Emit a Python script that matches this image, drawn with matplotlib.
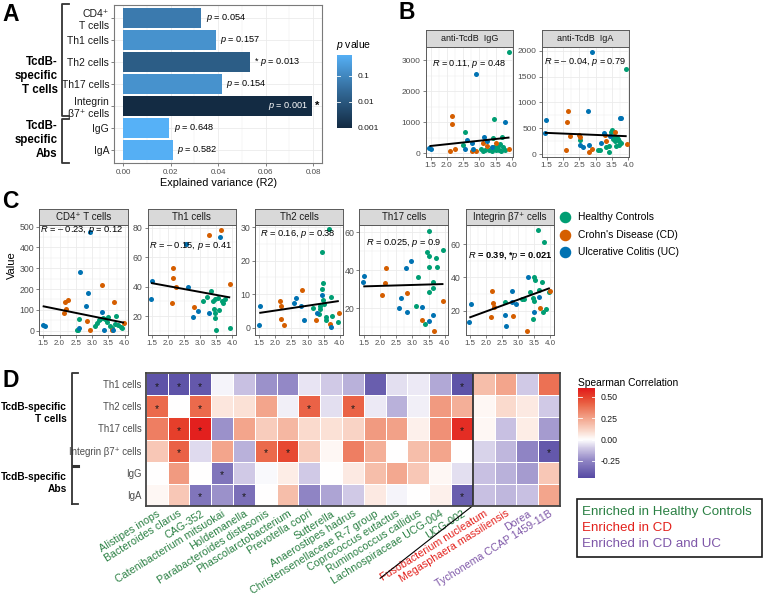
import numpy as np
import matplotlib
matplotlib.use('Agg')
import matplotlib.pyplot as plt
from matplotlib.colors import LinearSegmentedColormap, Normalize
from matplotlib.lines import Line2D
from matplotlib.patches import Rectangle

plt.rcParams['font.family'] = ['Liberation Sans', 'DejaVu Sans']
plt.rcParams['mathtext.fontset'] = 'custom'
plt.rcParams['mathtext.it'] = 'Liberation Sans:italic'
plt.rcParams['mathtext.rm'] = 'Liberation Sans'
plt.rcParams['mathtext.bf'] = 'Liberation Sans:bold'

# ------------------------------------------------------------------ data
# Panel A
a_labels = ['CD4⁺\nT cells', 'Th1 cells', 'Th2 cells', 'Th17 cells', 'Integrin\nβ7⁺ cells', 'IgG', 'IgA']
a_r2 = [0.033, 0.039, 0.0535, 0.0415, 0.0795, 0.0195, 0.021]
a_p = [0.054, 0.157, 0.013, 0.154, 0.001, 0.648, 0.582]
a_sig = [False, False, True, False, True, False, False]

group_names = ['Healthy Controls', "Crohn's Disease (CD)", 'Ulcerative Colitis (UC)']
group_colors = {'H': '#009E73', 'C': '#D55E00', 'U': '#0072B2'}

# Panel B
b_igg_x = [1.46, 1.50, 2.15, 2.17, 2.10, 2.24, 2.49, 2.57, 2.61, 2.57, 2.76, 2.78, 2.82, 2.90, 2.90, 3.05, 3.12, 3.18,
           3.10, 3.15, 3.25, 3.24, 3.30, 3.38, 3.45, 3.50, 3.52, 3.58, 3.62, 3.68, 3.72, 3.80, 3.45, 3.43, 3.53, 3.78,
           3.70, 3.92, 3.93, 3.40, 3.65]
b_igg_y = [171, 129, 1200, 943, 86, 150, 268, 686, 429, 139, 321, 86, 129, 2550, 86, 150, 60, 100,
           321, 514, 397, 236, 120, 60, 200, 150, 100, 230, 120, 60, 200, 110, 1093, 493, 321, 997,
           536, 3258, 129, 200, 300]
b_igg_g = list('UUCCCCHHUUUCUUCHHHCUUCHHHHHHHHHHHHCUHHCUH')
b_igg_fit = (112.0, 67.6)

b_iga_x = [1.48, 1.44, 2.15, 2.12, 2.10, 2.22, 2.49, 2.51, 2.53, 2.53, 2.61, 2.77, 2.80, 2.80, 2.90, 2.89, 3.07, 3.12,
           3.16, 3.26, 3.28, 3.33, 3.33, 3.40, 3.42, 3.43, 3.48, 3.50, 3.52, 3.58, 3.62, 3.66, 3.70, 3.72, 3.78, 3.60,
           3.76, 3.79, 3.92, 3.95, 3.55, 3.68]
b_iga_y = [658, 400, 839, 619, 77, 348, 370, 320, 271, 168, 142, 832, 181, 39, 103, 1981, 77, 77,
           206, 413, 370, 258, 142, 45, 160, 348, 432, 470, 300, 250, 160, 310, 250, 170, 210, 426,
           697, 697, 1639, 193, 350, 300]
b_iga_g = list('UUCCCCCCHUUUUCCUHHUUCCHHHUHHHHHHHHHCUUHCHH')
b_iga_fit = (-26.0, 447.7)

# Panel C
c_cd4_x = [1.48, 1.54, 2.17, 2.20, 2.27, 2.15, 2.60, 2.53, 2.60, 2.55, 2.64, 2.82, 2.86, 2.84, 2.93, 2.93, 3.30, 3.30,
           3.10, 3.15, 3.20, 3.25, 3.32, 3.38, 3.36, 3.68, 3.60, 3.65, 3.74, 3.70, 3.80, 3.88, 3.93, 3.98, 3.45, 3.55,
           3.62, 3.50]
c_cd4_y = [27, 22, 137, 106, 148, 85, 58, 3, 11, 2, 282, 117, 180, 47, 3, 476, 219, 91,
           22, 38, 50, 58, 62, 55, 3, 136, 3, 3, 69, 32, 27, 19, 14, 38, 40, 20, 15, 65]
c_cd4_g = list('UUCCCCHHUHUUUCCUCUHHHHHHUCCUHHHHHCHHHH')
c_cd4_fit = (-31.85, 164.8)

c_th1_x = [1.47, 1.51, 2.14, 2.14, 2.24, 2.12, 2.55, 2.62, 2.81, 2.78, 2.92, 3.27, 3.33, 3.10, 3.20, 3.40, 3.47, 3.55,
           3.67, 3.72, 3.76, 3.47, 3.45, 3.50, 3.60, 3.64, 3.27, 3.93, 3.91, 3.42, 3.58]
c_th1_y = [31.3, 44, 52.4, 45.6, 39.5, 29, 68.7, 40, 25.9, 19, 23.4, 75, 37, 30.4, 33, 30.4, 31.5, 32,
           30.4, 28.5, 31.6, 21.8, 18.4, 10.5, 73.9, 78.4, 22.3, 41.7, 12, 25, 24]
c_th1_g = list('UUCCCCUUCUUCHHHHHHHHHHHHUCUCHHH')
c_th1_fit = (-4.0, 48.3)

c_th2_x = [1.50, 1.52, 2.14, 2.17, 2.19, 2.27, 2.57, 2.63, 2.81, 2.84, 2.90, 3.17, 3.27, 3.30, 3.36, 3.40, 3.46, 3.46,
           3.48, 3.44, 3.67, 3.58, 3.56, 3.48, 3.50, 3.72, 3.74, 3.71, 3.76, 3.94, 3.97, 3.38]
c_th2_y = [0.8, 6.4, 8.0, 6.4, 2.7, 0.8, 7.3, 8.9, 6.5, 11.3, 2.3, 5.8, 2.3, 4.5, 4.0, 5.5, 9.8, 11.6,
           13.5, 22.5, 29.5, 3.2, 2.2, 8.2, 7.0, 9.2, 0.3, 1.0, 3.6, 1.6, 4.3, 6.5]
c_th2_g = list('UUCCCCUUUCUHCUHHUHHHHHHHHHUCHHCH')
c_th2_fit = (1.44, 2.24)

c_th17_x = [1.52, 1.49, 2.20, 2.15, 2.08, 2.64, 2.59, 2.83, 2.83, 2.81, 2.95, 3.19, 3.12, 3.29, 3.45, 3.50, 3.50, 3.50,
            3.63, 3.63, 3.74, 3.76, 3.94, 3.96, 3.29, 3.50, 3.38, 3.65, 3.67, 3.50]
c_th17_y = [37, 34, 41, 33.4, 27, 25.2, 20, 18.3, 27.9, 41, 45, 36.2, 21.2, 20.5, 49.7, 47.4, 41.8, 28.7,
            34, 30.5, 46.2, 41.8, 50.6, 24, 13.9, 13.4, 11.6, 16.5, 8.3, 60.7]
c_th17_g = list('UUCCCUUUCUUHHUHHHHHHHHHCCUHUCH')
c_th17_fit = (0.5, 30.75)

c_itg_x = [1.48, 1.52, 2.17, 2.20, 2.26, 2.15, 2.58, 2.63, 2.60, 2.82, 2.79, 2.84, 2.94, 3.13, 3.17, 3.30, 3.28, 3.37,
           3.48, 3.52, 3.46, 3.48, 3.46, 3.48, 3.61, 3.79, 3.74, 3.65, 3.65, 3.67, 3.76, 3.86, 3.96, 3.98]
c_itg_y = [13, 23.8, 32, 24.8, 22, 16, 17.4, 10.8, 25.2, 32, 25.4, 16.8, 23.8, 27.2, 27.2, 40.4, 8, 31,
           40, 38.4, 27.4, 26, 14.8, 19, 68.4, 61.4, 37.2, 32.4, 28, 21.4, 19, 20.8, 31.2, 32]
c_itg_g = list('UUCCCCUUHUUCUHHUCHHHHHHUHHHHUCHHHC')
c_itg_fit = (7.07, 5.4)

# Panel D
d_rows = ['Th1 cells', 'Th2 cells', 'Th17 cells', 'Integrin β7⁺ cells', 'IgG', 'IgA']
d_cols = ['Alistipes inops', 'Bacteroides clarus', 'CAG-352', 'Catenibacterium mitsuokai', 'Holdemanella',
          'Parabacteroides distasonis', 'Phascolarctobacterium', 'Prevotella copri', 'Sutterella',
          'Anaerostipes hadrus', 'Christensenellaceae R-7 group', 'Coprococcus eutactus', 'Ruminococcus callidus',
          'Lachnospiraceae UCG-004', 'UCG-002', 'Fusobacterium nucleatum', 'Megasphaera massiliensis', 'Dorea',
          'Tychonema CCAP 1459-11B']
d_col_group = ['HC'] * 15 + ['CD'] * 2 + ['CDUC'] * 2
d_corr = [
    [-0.42, -0.42, -0.40, -0.02, -0.12, -0.22, -0.24, -0.05, -0.10, -0.15, -0.38, -0.06, -0.04, -0.17, -0.42, 0.18, 0.25, -0.10, 0.38],
    [0.40, 0.00, 0.40, 0.07, 0.08, 0.25, -0.03, 0.42, -0.06, 0.42, -0.04, -0.15, -0.03, 0.28, 0.22, 0.02, 0.10, 0.06, -0.10],
    [0.35, 0.50, 0.58, -0.22, 0.25, 0.14, 0.20, 0.10, 0.08, 0.12, 0.28, 0.26, 0.04, 0.30, 0.55, 0.02, -0.12, 0.05, -0.20],
    [0.15, 0.42, -0.07, 0.25, -0.15, 0.40, 0.48, 0.14, 0.02, 0.35, 0.22, 0.00, 0.18, 0.25, 0.00, -0.08, -0.14, -0.25, -0.40],
    [0.00, 0.28, 0.00, -0.30, -0.10, -0.01, 0.05, -0.10, 0.00, 0.06, 0.18, 0.24, 0.15, 0.02, -0.06, -0.12, -0.15, -0.20, 0.15],
    [0.02, 0.15, -0.30, -0.22, -0.32, 0.00, 0.18, -0.25, -0.18, -0.10, 0.06, -0.02, 0.00, 0.04, -0.38, -0.12, -0.14, -0.12, 0.25],
]
d_stars = [(0, 0), (0, 1), (0, 2), (0, 14), (1, 0), (1, 2), (1, 7), (1, 9), (2, 1), (2, 2), (2, 14),
           (3, 1), (3, 5), (3, 6), (3, 18), (4, 3), (5, 2), (5, 4), (5, 14)]
d_legend = [('Enriched in Healthy Controls', 'HC'), ('Enriched in CD', 'CD'), ('Enriched in CD and UC', 'CDUC')]
d_group_colors = {'HC': '#2A8043', 'CD': '#E3211C', 'CDUC': '#7E57A8'}
d_lim = (-0.446, 0.598)

# ------------------------------------------------------------------ figure helpers
W, H = 763, 598
fig = plt.figure(figsize=(W / 100, H / 100), dpi=100)


def add_ax(x0, y0, x1, y1):
    return fig.add_axes([x0 / W, 1 - y1 / H, (x1 - x0) / W, (y1 - y0) / H])


def ftext(x, y, s, **kw):
    fig.text(x / W, 1 - y / H, s, **kw)


def fline(xs, ys, **kw):
    fig.add_artist(Line2D([x / W for x in xs], [1 - y / H for y in ys], **kw))


GRID = '#EBEBEB'
BORDER = '#5A5A5A'
TICKC = '#4D4D4D'

# ------------------------------------------------------------------ Panel A
gg_blue = LinearSegmentedColormap.from_list('ggblue', ['#132B43', '#336A98', '#56B1F7'])
pnorm = Normalize(np.log10(0.001), np.log10(0.648))

axA = add_ax(114, 5, 322, 163)
ypos = np.arange(len(a_labels))
cols = [gg_blue(pnorm(np.log10(p))) for p in a_p]
axA.barh(ypos, a_r2, height=0.9, color=cols, zorder=3)
axA.set_xlim(-0.0038, 0.0837)
axA.set_ylim(6.6, -0.6)
axA.set_xticks([0, 0.02, 0.04, 0.06, 0.08])
axA.set_xticklabels(['0.00', '0.02', '0.04', '0.06', '0.08'])
axA.set_xticks([0.01, 0.03, 0.05, 0.07], minor=True)
axA.set_yticks(ypos)
axA.set_yticklabels(a_labels)
axA.grid(True, which='major', color=GRID, lw=0.6, zorder=0)
axA.grid(True, which='minor', axis='x', color=GRID, lw=0.3, zorder=0)
axA.set_axisbelow(True)
axA.tick_params(axis='x', labelsize=5.8, colors=TICKC, length=2.5, width=0.5, pad=1.5)
axA.tick_params(axis='x', which='minor', length=0)
axA.tick_params(axis='y', labelsize=7.5, labelcolor='#1A1A1A', color=TICKC, length=2.5, width=0.5, pad=1)
for s in axA.spines.values():
    s.set_color('#7A7A7A')
    s.set_linewidth(0.8)
axA.set_xlabel('Explained variance (R2)', fontsize=7.8, labelpad=1.5)
for i, (r, p, sg) in enumerate(zip(a_r2, a_p, a_sig)):
    ptxt = '$p$ = %s' % ('%.3f' % p)
    if i == 4:
        axA.annotate(ptxt, (r, i), xytext=(-3, 0), textcoords='offset points', ha='right', va='center',
                     fontsize=6.6, color='white')
        axA.annotate('*', (r, i), xytext=(2, 0), textcoords='offset points', ha='left', va='center',
                     fontsize=8, fontweight='bold')
    elif sg:
        axA.annotate('* ' + ptxt, (r, i), xytext=(3, 0), textcoords='offset points', ha='left', va='center',
                     fontsize=6.6)
    else:
        axA.annotate(ptxt, (r, i), xytext=(3, 0), textcoords='offset points', ha='left', va='center',
                     fontsize=6.6)

# colorbar A
axCA = add_ax(337, 54.5, 352, 128)
lo, hi = np.log10(0.001), np.log10(0.648)
grad = np.linspace(lo, hi, 200).reshape(-1, 1)
axCA.imshow(grad, aspect='auto', cmap=gg_blue, norm=pnorm, origin='lower', extent=[0, 1, lo, hi])
axCA.set_xlim(0, 1)
axCA.set_ylim(lo, hi)
axCA.set_xticks([])
axCA.yaxis.tick_right()
axCA.set_yticks([-1, -2, -3])
axCA.set_yticklabels(['0.1', '0.01', '0.001'])
axCA.tick_params(axis='y', length=0, labelsize=6, pad=4, labelcolor='#1A1A1A')
for s in axCA.spines.values():
    s.set_visible(False)
for t in [-1, -2, -3]:
    axCA.plot([0, 0.2], [t, t], color='white', lw=0.6)
    axCA.plot([0.8, 1], [t, t], color='white', lw=0.6)
ftext(336, 45, '$p$ value', fontsize=7.5, va='center', ha='left')

# brackets A
fline([69, 61.7, 61.7, 69], [4, 4, 116, 116], color='#333333', lw=1.3)
fline([69, 61.7, 61.7, 69], [118.5, 118.5, 163, 163], color='#333333', lw=1.3)
ftext(57.5, 76.3, 'TcdB-\nspecific\nT cells', ha='right', va='center', fontsize=8.3, fontweight='bold',
      linespacing=1.22)
ftext(57.5, 140, 'TcdB-\nspecific\nAbs', ha='right', va='center', fontsize=8.3, fontweight='bold',
      linespacing=1.22)

# ------------------------------------------------------------------ scatter helper


def minor_ticks(major, lim):
    step = major[1] - major[0]
    m = [major[0] - step / 2] + [a + step / 2 for a in major]
    return [v for v in m if lim[0] <= v <= lim[1]]


def scatter_panel(box, strip_y, title, xs, ys, gs, fit, xlim, ylim, yticks, txt, txt_pos, bold=False,
                  xfs=6.0, yfs=6.0, stripfs=6.5, txtfs=6.6):
    x0, y0, x1, y1 = box
    ax = add_ax(x0, y0, x1, y1)
    xs = np.asarray(xs, float)
    ys = np.asarray(ys, float)
    gs = np.asarray(gs)
    xt = [1.5, 2.0, 2.5, 3.0, 3.5, 4.0]
    ax.set_xlim(xlim)
    ax.set_ylim(ylim)
    ax.set_xticks(xt)
    ax.set_xticklabels(['%.1f' % v for v in xt])
    ax.set_xticks(minor_ticks(xt, xlim), minor=True)
    ax.set_yticks(yticks)
    ax.set_yticklabels(['%g' % v for v in yticks])
    ax.set_yticks(minor_ticks(yticks, ylim), minor=True)
    ax.grid(True, which='major', color=GRID, lw=0.6, zorder=0)
    ax.grid(True, which='minor', color=GRID, lw=0.3, zorder=0)
    ax.set_axisbelow(True)
    ax.tick_params(which='minor', length=0)
    ax.tick_params(axis='x', labelsize=xfs, colors=TICKC, length=2.5, width=0.5, pad=1)
    ax.tick_params(axis='y', labelsize=yfs, colors=TICKC, length=2.5, width=0.5, pad=1)
    for s in ax.spines.values():
        s.set_color(BORDER)
        s.set_linewidth(0.7)
    for g in ['H', 'C', 'U']:
        m = gs == g
        ax.scatter(xs[m], ys[m], s=13, color=group_colors[g], linewidths=0, zorder=3)
    xl = np.array([xs.min(), xs.max()])
    ax.plot(xl, fit[0] * xl + fit[1], color='black', lw=1.4, zorder=4, solid_capstyle='butt')
    ax.text(txt_pos[0], txt_pos[1], txt, transform=ax.transAxes, ha='center', va='baseline', fontsize=txtfs,
            fontweight='bold' if bold else 'normal', zorder=5)
    sax = add_ax(x0, strip_y, x1, y0)
    sax.set_facecolor('#D9D9D9')
    sax.set_xticks([])
    sax.set_yticks([])
    for s in sax.spines.values():
        s.set_color(BORDER)
        s.set_linewidth(0.7)
    sax.text(0.5, 0.5, title, transform=sax.transAxes, ha='center', va='center', fontsize=stripfs,
             color='#1A1A1A')
    return ax


# ------------------------------------------------------------------ Panel B
BX = (1.345, 4.03)
scatter_panel((425.7, 46.7, 512.7, 156.7), 30, 'anti-TcdB  IgG', b_igg_x, b_igg_y, b_igg_g, b_igg_fit, BX,
              (-110, 3430), [0, 1000, 2000, 3000], '$R$ = 0.11, $p$ = 0.48', (0.5, 0.825))
scatter_panel((541.7, 46.7, 629.3, 156.7), 30, 'anti-TcdB  IgA', b_iga_x, b_iga_y, b_iga_g, b_iga_fit, BX,
              (-52, 2077), [0, 500, 1000, 1500, 2000], '$R$ = – 0.04, $p$ = 0.79', (0.5, 0.843))

# ------------------------------------------------------------------ Panel C
CX = (1.367, 4.11)
cy0, cy1, cs = 225, 335, 209.3
ckw = dict(xfs=5.7, yfs=6.3, stripfs=7, txtfs=6.7)
scatter_panel((39, cy0, 128.3, cy1), cs, 'CD4⁺ T cells', c_cd4_x, c_cd4_y, c_cd4_g, c_cd4_fit, CX,
              (-21, 508), [0, 100, 200, 300, 400, 500], '$R$ = – 0.23, $p$ = 0.12', (0.48, 0.935), **ckw)
scatter_panel((147.7, cy0, 236, cy1), cs, 'Th1 cells', c_th1_x, c_th1_y, c_th1_g, c_th1_fit, CX,
              (7.1, 81.8), [20, 40, 60, 80], '$R$ = – 0.15, $p$ = 0.41', (0.487, 0.788), **ckw)
scatter_panel((255, cy0, 343.3, cy1), cs, 'Th2 cells', c_th2_x, c_th2_y, c_th2_g, c_th2_fit, CX,
              (-2.2, 30.7), [0, 10, 20, 30], '$R$ = 0.16, $p$ = 0.38', (0.483, 0.9), **ckw)
scatter_panel((359.3, cy0, 448.3, cy1), cs, 'Th17 cells', c_th17_x, c_th17_y, c_th17_g, c_th17_fit, CX,
              (6, 63.7), [20, 40, 60], '$R$ = 0.025, $p$ = 0.9', (0.5, 0.818), **ckw)
scatter_panel((465.7, cy0, 554, cy1), cs, 'Integrin β7⁺ cells', c_itg_x, c_itg_y, c_itg_g, c_itg_fit, CX,
              (5.4, 71.4), [20, 40, 60], '$R$ = 0.39, *$p$ = 0.021', (0.504, 0.697), bold=True, **ckw)
ftext(12, 265, 'Value', rotation=90, ha='center', va='center', fontsize=8)

for k, (name, g) in enumerate(zip(group_names, ['H', 'C', 'U'])):
    yy = 216.7 + k * 17.8
    fig.add_artist(Line2D([565 / W], [1 - yy / H], marker='o', markersize=7.3, color=group_colors[g],
                          linestyle='none'))
    ftext(577.5, yy, name, ha='left', va='center', fontsize=7.4)

# ------------------------------------------------------------------ Panel D
cpos = [(-0.598, '#3B2C96'), (-0.446, '#574BA4'), (-0.25, '#8F84C4'), (-0.1, '#D0C9E6'), (0.0, '#FFFFFF'),
        (0.1, '#FADACD'), (0.25, '#F3A58C'), (0.4, '#EB6A4C'), (0.5, '#E6412C'), (0.598, '#E31A1C')]
dcmap = LinearSegmentedColormap.from_list('sp', [((v + 0.598) / 1.196, c) for v, c in cpos])
dnorm = Normalize(-0.598, 0.598)

axD = add_ax(145.7, 373.3, 560, 505.7)
M = np.array(d_corr)
nr, nc = M.shape
axD.pcolormesh(np.arange(nc + 1), np.arange(nr + 1), M, cmap=dcmap, norm=dnorm, edgecolors='white',
               linewidth=0.4)
axD.set_xlim(0, nc)
axD.set_ylim(nr, 0)
for (r, c) in d_stars:
    axD.text(c + 0.5, r + 0.62, '*', ha='center', va='center', fontsize=7.5, color='#1A1A1A')
axD.axvline(15, color='#333333', lw=1.3)
for s in axD.spines.values():
    s.set_color('#444444')
    s.set_linewidth(1.3)
axD.set_yticks(np.arange(nr) + 0.5)
axD.set_yticklabels(d_rows)
axD.tick_params(axis='y', labelsize=6.9, labelcolor='#4D4D4D', length=0, pad=3)
axD.set_xticks(np.arange(nc) + 0.5)
axD.set_xticklabels(d_cols, rotation=32, ha='right', rotation_mode='anchor')
axD.tick_params(axis='x', labelsize=7.7, length=0, pad=2)
for lab, g in zip(axD.get_xticklabels(), d_col_group):
    lab.set_color(d_group_colors[g])
axD.plot([15, 15 - 4.25], [nr, nr + 3.29], color='black', lw=0.8, clip_on=False)

# brackets D
fline([78.3, 71.7, 71.7], [372.7, 372.7, 504], color='#333333', lw=1.3)
fline([71.7, 78.3], [504, 504], color='#333333', lw=1.3)
fline([72.5, 78.3], [466, 466], color='#333333', lw=2.2)
ftext(67, 413, 'TcdB-specific\nT cells', ha='right', va='center', fontsize=7.3, fontweight='bold',
      linespacing=1.3)
ftext(67, 482.7, 'TcdB-specific\nAbs', ha='right', va='center', fontsize=7.3, fontweight='bold',
      linespacing=1.3)

# colorbar D
axCD = add_ax(578.3, 388.3, 595, 477.7)
g2 = np.linspace(d_lim[0], d_lim[1], 200).reshape(-1, 1)
axCD.imshow(g2, aspect='auto', cmap=dcmap, norm=dnorm, origin='lower', extent=[0, 1, d_lim[0], d_lim[1]])
axCD.set_xlim(0, 1)
axCD.set_ylim(*d_lim)
axCD.set_xticks([])
axCD.yaxis.tick_right()
axCD.set_yticks([0.5, 0.25, 0.0, -0.25])
axCD.set_yticklabels(['0.50', '0.25', '0.00', '-0.25'])
axCD.tick_params(axis='y', length=0, labelsize=6.3, pad=4, labelcolor='#1A1A1A')
for s in axCD.spines.values():
    s.set_visible(False)
for t in [0.5, 0.25, 0.0, -0.25]:
    axCD.plot([0, 0.2], [t, t], color='white', lw=0.6)
    axCD.plot([0.8, 1], [t, t], color='white', lw=0.6)
ftext(577.5, 386.5, 'Spearman Correlation', ha='left', va='baseline', fontsize=7.4)

# legend box D
fig.add_artist(Rectangle((576.7 / W, 1 - 556.7 / H), (761.5 - 576.7) / W, (556.7 - 499.3) / H,
                         transform=fig.transFigure, fill=False, edgecolor='#1A1A1A', lw=1.2))
for k, (txt, g) in enumerate(d_legend):
    ftext(581.5, 512.3 + k * 15.85, txt, ha='left', va='center', fontsize=9.6, color=d_group_colors[g])

# ------------------------------------------------------------------ panel letters
for letter, x, y in [('A', 2, 20.7), ('B', 399, 19.3), ('C', 2, 208.3), ('D', 2, 386.7)]:
    ftext(x, y, letter, fontsize=16.5, fontweight='bold', ha='left', va='baseline')

fig.savefig('out.png', dpi=100)
